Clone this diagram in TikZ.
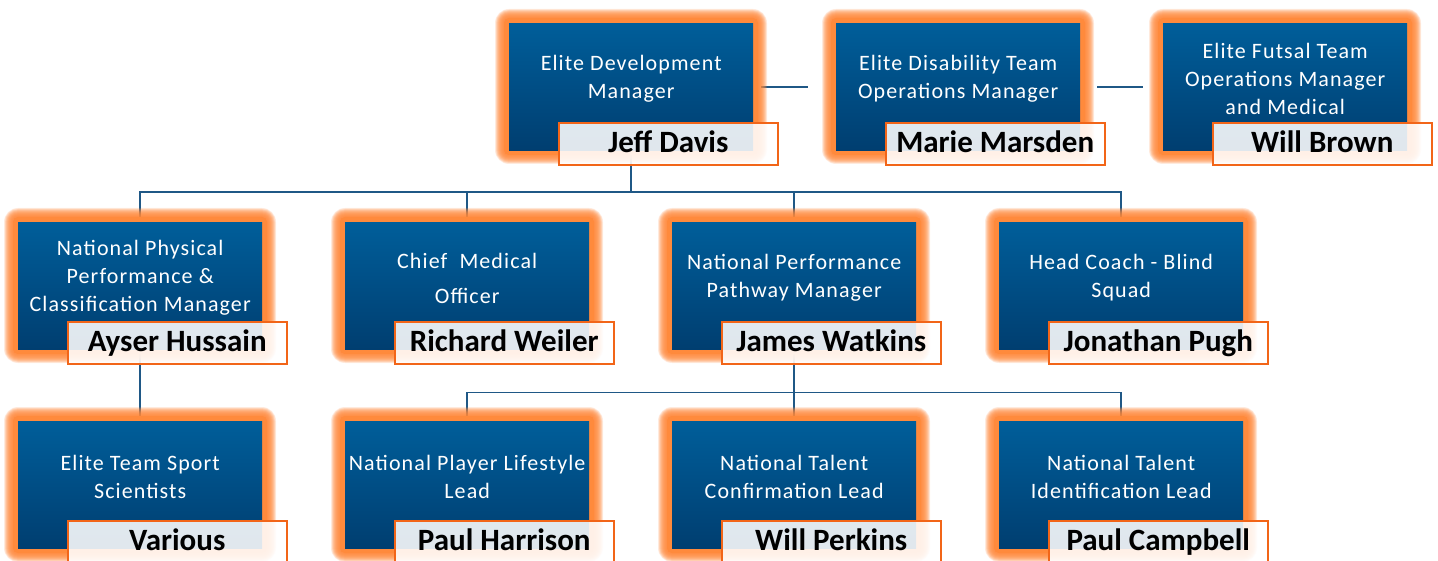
\documentclass[tikz,border=0pt]{standalone}
\usepackage{fontspec}
\setmainfont{Carlito}
\newfontfamily\ttlfont[LetterSpace=5]{Carlito}
\usepackage{xcolor}
\usetikzlibrary{positioning,calc,backgrounds}
\definecolor{boxtop}{RGB}{0,94,154}
\definecolor{boxbot}{RGB}{0,62,112}
\definecolor{glowc}{RGB}{255,138,60}
\definecolor{edgec}{RGB}{242,101,24}
\definecolor{linec}{RGB}{31,88,134}

\begin{document}
\begin{tikzpicture}[x=1pt,y=-1pt,
    bluebox/.style={anchor=north west,minimum width=244pt,minimum height=127pt,inner sep=0pt,top color=boxtop,bottom color=boxbot},
    ttl/.style={text=white,align=center,font=\ttlfont\fontsize{22}{28}\selectfont},
    namebox/.style={anchor=north west,minimum width=219pt,minimum height=42pt,inner sep=0pt,text height=20pt,text depth=4pt,
      draw=edgec,line width=1.5pt,fill=white,fill opacity=0.88,text opacity=1,font=\bfseries\fontsize{31}{31}\selectfont},
    conn/.style={draw=linec,line width=1.8pt}]
  \useasboundingbox (0,0) rectangle (1438,561);
  \foreach \nm/\x/\y/\ttl/\who in {
      jeff/509/23/{Elite Development\\Manager}/{Jeff Davis},
      marie/836/23/{Elite Disability Team\\Operations Manager}/{Marie Marsden},
      will/1163/23/{Elite Futsal Team\\Operations Manager\\and Medical}/{Will Brown},
      ayser/18/222/{National Physical\\Performance \&\\Classification Manager}/{Ayser Hussain},
      richard/345/222/{Chief\ \ Medical\\[7pt]Officer}/{Richard Weiler},
      james/672/222/{National Performance\\Pathway Manager}/{James Watkins},
      jonathan/999/222/{Head Coach - Blind\\Squad}/{Jonathan Pugh},
      various/18/421/{Elite Team Sport\\Scientists}/{Various},
      harrison/345/421/{National Player Lifestyle\\Lead}/{Paul Harrison},
      perkins/672/421/{National Talent\\Confirmation Lead}/{Will Perkins},
      campbell/999/421/{National Talent\\Identification Lead}/{Paul Campbell}}{
    \fill[glowc,rounded corners=5] (\x-5,\y-5) rectangle (\x+249,\y+132);%glow
    \foreach \g in {5.5,6,...,14}
      \fill[glowc,opacity=0.13,rounded corners=\g] (\x-\g,\y-\g) rectangle (\x+244+\g,\y+127+\g);
    \node[bluebox] (\nm) at (\x,\y) {};
    \node[ttl] (\nm-t) at ($(\nm.north)+(0,56)$) {\ttl};
    \node[namebox] (\nm-n) at ($(\nm.south west)+(49,-28)$) {\who};
  }
  \begin{scope}[on background layer]
    \fill[white] (0,0) rectangle (1438,561);
    \draw[conn,shorten <=8pt,shorten >=28pt] (jeff.east) -- (marie.west);
    \draw[conn,shorten <=17pt,shorten >=20pt] (marie.east) -- (will.west);
    \coordinate (topbus) at ($(jeff.south)+(0,42)$);
    \draw[conn] (jeff.south) -- (topbus);
    \foreach \k in {ayser,richard,james,jonathan}
      \draw[conn] (topbus) -| (\k.north);
    \coordinate (midbus) at ($(james.south)+(0,43)$);
    \draw[conn] (james.south) -- (midbus);
    \foreach \k in {harrison,perkins,campbell}
      \draw[conn] (midbus) -| (\k.north);
    \draw[conn] (ayser.south) -- (various.north);
  \end{scope}
\end{tikzpicture}
\end{document}
